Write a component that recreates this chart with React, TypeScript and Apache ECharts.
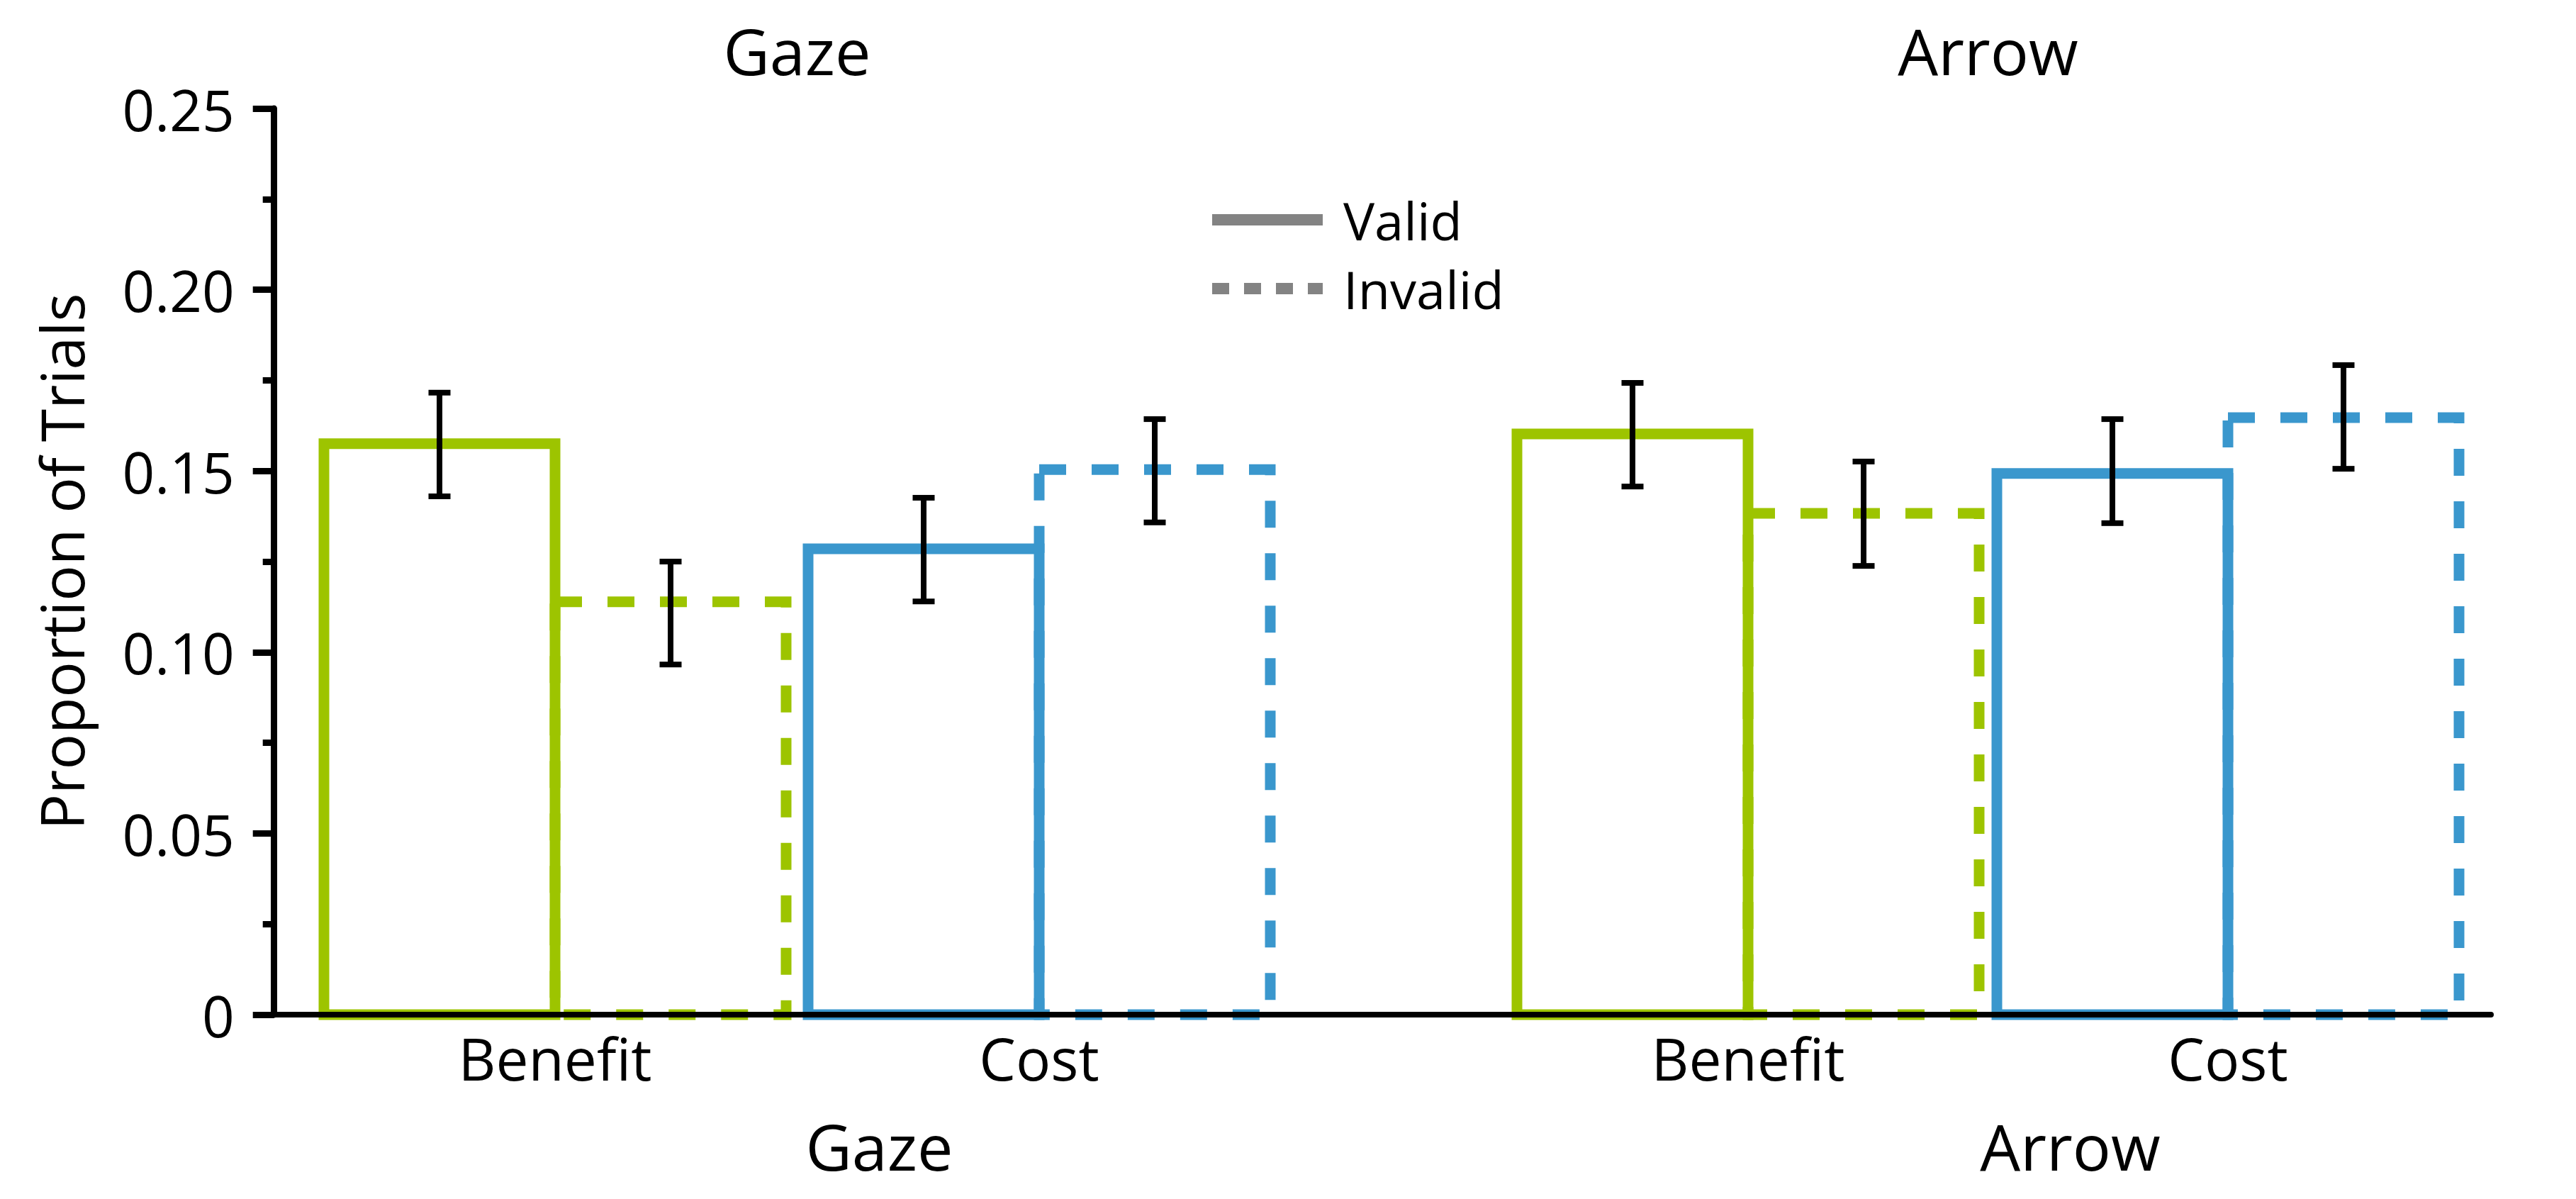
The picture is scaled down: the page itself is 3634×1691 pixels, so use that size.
import React, { useEffect, useRef } from "react";
import * as echarts from "echarts";

// ---- data ----
const groups = ["Gaze", "Arrow"];
const categories = ["Benefit", "Cost"];
const legendNames = ["Valid", "Invalid"];
const yAxisTitle = "Proportion of Trials";
const yMin = 0;
const yMax = 0.25;
const yInterval = 0.05;

const gazeValid = [0.1575, 0.1285];
const gazeInvalid = [0.1139, 0.1504];
const arrowValid = [0.1602, 0.1493];
const arrowInvalid = [0.1383, 0.1647];

const gazeValidLow = [0.143, 0.114];
const gazeValidHigh = [0.1716, 0.1426];
const gazeInvalidLow = [0.0966, 0.1358];
const gazeInvalidHigh = [0.125, 0.1643];
const arrowValidLow = [0.1457, 0.1356];
const arrowValidHigh = [0.1743, 0.1643];
const arrowInvalidLow = [0.1238, 0.1506];
const arrowInvalidHigh = [0.1526, 0.1792];

// ---- style / layout ----
const W = 3634;
const H = 1691;
const FONT = "'Open Sans', 'Noto Sans', sans-serif";
const categoryColors = ["#9DC400", "#3A97CD"];
const GRAY = "#838383";
const BAR_W = 326;
const BORDER_W = 15;
const DASH = [38, 36];
const PLOT_TOP = 153;
const PLOT_BOTTOM = 260;
const AXIS_LEFT = 386.7;
const AXIS_RIGHT = 120;
const subGrids = [
  { left: 441.5, width: 1366 },
  { left: 2127.5, width: 1354 },
];

// side: -1 = left bar of the category (Valid), +1 = right bar (Invalid)
function barData(values: number[], side: number) {
  return values.map((v, i) => [i, v, side]);
}

function errData(lowV: number[], highV: number[], lowI: number[], highI: number[]) {
  const out: number[][] = [];
  categories.forEach((_, i) => {
    out.push([i, lowV[i], highV[i], -1]);
    out.push([i, lowI[i], highI[i], 1]);
  });
  return out;
}

const makeBarRenderer = (dashed: boolean) => (_params: any, api: any) => {
  const i = api.value(0);
  const top = api.coord([i, api.value(1)]);
  const base = api.coord([i, 0]);
  const cx = top[0] + (api.value(2) * BAR_W) / 2;
  return {
    type: "rect",
    shape: { x: cx - BAR_W / 2, y: top[1], width: BAR_W, height: base[1] - top[1] },
    style: {
      fill: "none",
      stroke: categoryColors[i],
      lineWidth: BORDER_W,
      lineDash: dashed ? DASH : null,
    },
  };
};

const renderError = (_params: any, api: any) => {
  const i = api.value(0);
  const lo = api.coord([i, api.value(1)]);
  const hi = api.coord([i, api.value(2)]);
  const x = lo[0] + (api.value(3) * BAR_W) / 2;
  const cap = 15.5;
  const st = { stroke: "#000", lineWidth: 8 };
  return {
    type: "group",
    children: [
      { type: "line", shape: { x1: x, y1: hi[1], x2: x, y2: lo[1] }, style: st },
      { type: "line", shape: { x1: x - cap, y1: hi[1], x2: x + cap, y2: hi[1] }, style: st },
      { type: "line", shape: { x1: x - cap, y1: lo[1], x2: x + cap, y2: lo[1] }, style: st },
    ],
  };
};

function barSeries(name: string, axis: number, data: number[], dashed: boolean) {
  return {
    type: "custom",
    name,
    xAxisIndex: axis,
    yAxisIndex: axis,
    z: dashed ? 3 : 4,
    silent: true,
    encode: { x: 0, y: 1 },
    data: barData(data, dashed ? 1 : -1),
    renderItem: makeBarRenderer(dashed),
  };
}

function errSeries(name: string, axis: number, data: number[][]) {
  return {
    type: "custom",
    name,
    xAxisIndex: axis,
    yAxisIndex: axis,
    z: 5,
    silent: true,
    encode: { x: 0, y: [1, 2] },
    data,
    renderItem: renderError,
  };
}

export default function App() {
  const ref = useRef<HTMLDivElement>(null);

  useEffect(() => {
    document.body.style.margin = "0";
    document.body.style.overflow = "hidden";
    if (!ref.current) return;
    const chart = echarts.init(ref.current, null, { renderer: "svg" });

    const subX = (gi: number) => ({
      gridIndex: gi + 1,
      type: "category",
      data: categories,
      axisLine: { show: false },
      axisTick: { show: false },
      splitLine: { show: false },
      axisLabel: { margin: 20, fontSize: 82, color: "#000", fontFamily: FONT },
      name: groups[gi],
      nameLocation: "middle",
      nameGap: 140,
      nameTextStyle: {
        fontSize: 90,
        color: "#000",
        fontFamily: FONT,
        padding: [0, 0, 0, 232],
      },
    });
    const subY = (gi: number) => ({
      gridIndex: gi + 1,
      type: "value",
      min: yMin,
      max: yMax,
      show: false,
    });

    const option: any = {
      animation: false,
      textStyle: { fontFamily: FONT },
      grid: [
        { left: AXIS_LEFT, right: AXIS_RIGHT, top: PLOT_TOP, bottom: PLOT_BOTTOM, outerBoundsMode: "none" },
        ...subGrids.map((g) => ({
          left: g.left,
          width: g.width,
          top: PLOT_TOP,
          bottom: PLOT_BOTTOM,
          outerBoundsMode: "none",
        })),
      ],
      xAxis: [
        {
          gridIndex: 0,
          type: "value",
          min: 0,
          max: 1,
          z: 10,
          axisLine: { show: true, onZero: false, lineStyle: { color: "#000", width: 8 } },
          axisTick: { show: false },
          axisLabel: { show: false },
          splitLine: { show: false },
        },
        subX(0),
        subX(1),
      ],
      yAxis: [
        {
          gridIndex: 0,
          type: "value",
          min: yMin,
          max: yMax,
          interval: yInterval,
          name: yAxisTitle,
          nameLocation: "middle",
          nameGap: 258,
          nameTextStyle: { fontSize: 84, color: "#000", fontFamily: FONT },
          axisLine: { show: true, onZero: false, lineStyle: { color: "#000", width: 9 } },
          axisTick: { show: true, inside: false, length: 30, lineStyle: { color: "#000", width: 9 } },
          minorTick: { show: true, splitNumber: 2, length: 16, lineStyle: { color: "#000", width: 9 } },
          axisLabel: {
            fontSize: 80,
            margin: 56,
            color: "#000",
            fontFamily: FONT,
            formatter: (v: number) => (v === 0 ? "0" : v.toFixed(2)),
          },
          splitLine: { show: false },
          minorSplitLine: { show: false },
        },
        subY(0),
        subY(1),
      ],
      legend: legendNames.map((n, i) => ({
        data: [n],
        left: 1702,
        top: 273 + i * 97,
        padding: 0,
        itemWidth: 156,
        itemHeight: 16,
        selectedMode: false,
        itemStyle: { opacity: 0 },
        lineStyle: { width: 16, color: GRAY, type: i === 0 ? "solid" : [24, 21] },
        textStyle: { fontSize: 74, color: "#000", fontFamily: FONT, padding: [0, 0, 0, 24] },
      })),
      graphic: groups.map((g, i) => ({
        type: "text",
        x: subGrids[i].left + subGrids[i].width / 2,
        y: 71,
        style: {
          text: g,
          fontSize: 90,
          fontFamily: FONT,
          fill: "#000",
          align: "center",
          verticalAlign: "middle",
        },
      })),
      series: [
        barSeries("Gaze Invalid", 1, gazeInvalid, true),
        barSeries("Gaze Valid", 1, gazeValid, false),
        barSeries("Arrow Invalid", 2, arrowInvalid, true),
        barSeries("Arrow Valid", 2, arrowValid, false),
        errSeries("Gaze error", 1, errData(gazeValidLow, gazeValidHigh, gazeInvalidLow, gazeInvalidHigh)),
        errSeries("Arrow error", 2, errData(arrowValidLow, arrowValidHigh, arrowInvalidLow, arrowInvalidHigh)),
        ...legendNames.map((n, i) => ({
          type: "line",
          name: n,
          xAxisIndex: 0,
          yAxisIndex: 0,
          data: [],
          symbol: "none",
          lineStyle: { color: GRAY, width: 16, type: i === 0 ? "solid" : [24, 21] },
          itemStyle: { color: GRAY },
        })),
      ],
    };

    chart.setOption(option);
    return () => chart.dispose();
  }, []);

  return <div ref={ref} style={{ width: W, height: H }} />;
}
